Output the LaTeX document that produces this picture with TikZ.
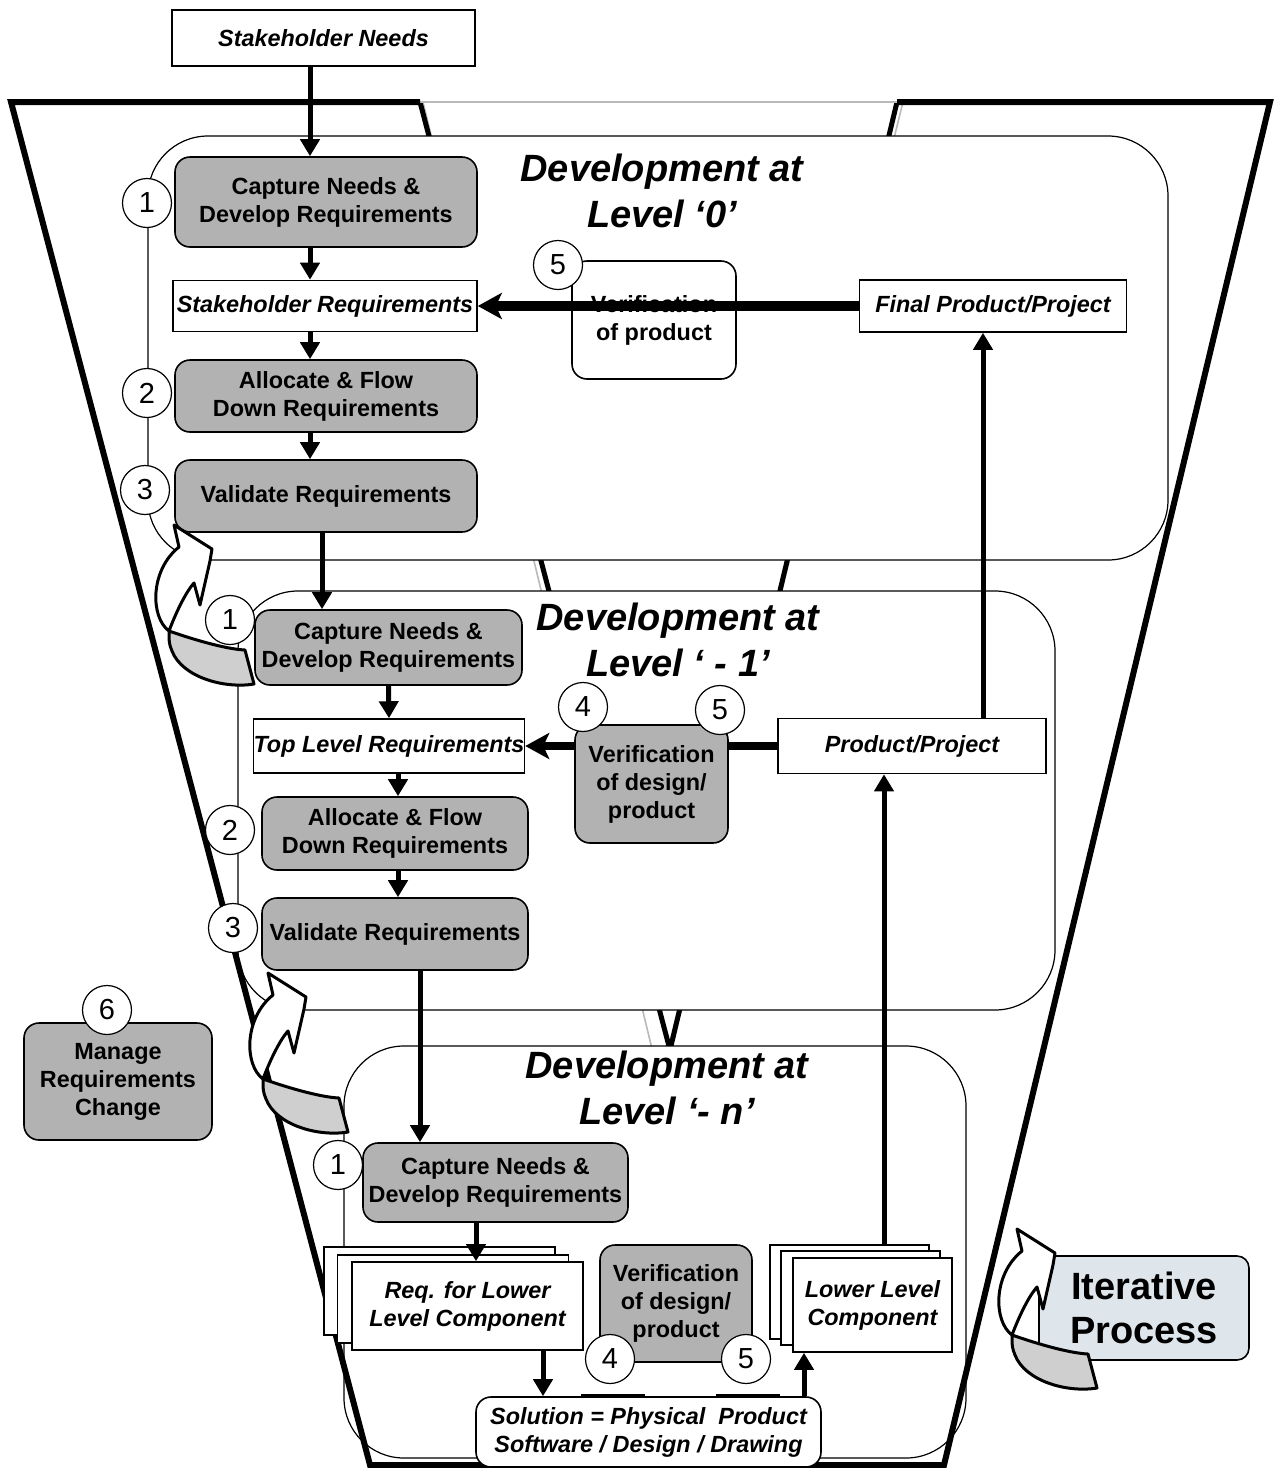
\documentclass[tikz,border=0pt]{standalone}
\usepackage{fontspec}
\setmainfont{Liberation Sans}
\usetikzlibrary{arrows.meta}

\definecolor{boxgray}{RGB}{178,178,178}
\definecolor{undergray}{RGB}{207,207,207}
\definecolor{iterfill}{RGB}{223,230,235}
\definecolor{shadowline}{RGB}{185,185,185}

\tikzset{
  graybox/.style={draw, fill=boxgray, rounded corners=7.5pt, line width=0.8pt,
    align=center, inner sep=1pt, font=\bfseries\fontsize{11.7}{14}\selectfont},
  whitebox/.style={draw, fill=white, line width=0.8pt, align=center,
    inner sep=0pt, font=\bfseries\itshape\fontsize{11.7}{14}\selectfont},
  roundwhite/.style={whitebox, rounded corners=7.5pt},
  numcirc/.style={circle, draw, fill=white, line width=0.6pt, minimum size=24.5pt,
    inner sep=0pt, font=\fontsize{14.5}{14.5}\selectfont},
  leveltitle/.style={align=center, font=\bfseries\itshape\fontsize{19}{23}\selectfont},
  levelbox/.style={draw, fill=white, line width=0.6pt, rounded corners=30pt},
  iterbox/.style={draw, fill=iterfill, rounded corners=6pt, line width=0.8pt,
    align=center, font=\bfseries\fontsize{19}{22}\selectfont},
  flow/.style={line width=2.5pt, -{Triangle[length=8.5pt,width=9.5pt]}},
  bigflow/.style={line width=#1, -{Stealth[length=12pt,width=13pt,inset=3pt]}},
  bigflow/.default=5pt,
  pics/twistarrow/.style={code={
    \filldraw[fill=undergray, line width=1.5pt, line join=round]
      (-5,106) .. controls (15,113) and (50,124) .. (71,125) -- (80,159)
      .. controls (50,164) and (8,152) .. (-2,126)
      .. controls (-5,118) .. (-5,106) -- cycle;
    \filldraw[fill=white, line width=1.5pt, line join=round]
      (0,0) -- (38,24) -- (36,36) -- (26,80) -- (20,58)
      .. controls (11,68) and (1,90) .. (-5,106)
      .. controls (-24,92) and (-24,45) .. (5,22) -- cycle;
  }}
}

\begin{document}
\begin{tikzpicture}[x=0.5pt,y=-0.5pt]
  \useasboundingbox (0,0) rectangle (1284,1468);
  % V interna
  \draw[shadowline, line width=0.8pt] (423,102) -- (660,1082) -- (903,102);
  \draw[line width=2.5pt] (420,102) -- (670,1050) -- (897,102);
  \draw[shadowline, line width=1.2pt] (420,102) -- (897,102);
  % Livelli
  \draw[levelbox] (148,136) rectangle (1168,560);
  \draw[levelbox] (238,591) rectangle (1055,1010);
  \draw[levelbox] (344,1046) rectangle (966,1458);
  % Imbuto
  \draw[line width=3pt, line join=miter] (420,102) -- (11,102) -- (370,1465)
    -- (944,1465) -- (1270,102) -- (897,102);
  % Titoli
  \node[leveltitle] (title0) at (662,191) {Development at\\Level ‘0’};
  \node[leveltitle] (title1) at (678,640) {Development at\\Level ‘ - 1’};
  \node[leveltitle] (titlen) at (667,1088) {Development at\\Level ‘- n’};

  % Livello 0
  \node[whitebox, minimum width=151.5pt, minimum height=28pt] (needs) at (323.5,38) {Stakeholder Needs};
  \node[graybox, minimum width=151pt, minimum height=45pt] (cap0) at (326,202) {Capture Needs \&\\Develop Requirements};
  \node[whitebox, minimum width=152pt, minimum height=25.5pt] (sreq) at (325,306) {Stakeholder Requirements};
  \node[graybox, minimum width=151pt, minimum height=36pt] (alloc0) at (326,396) {Allocate \& Flow\\Down Requirements};
  \node[graybox, minimum width=151pt, minimum height=36pt] (val0) at (326,496) {Validate Requirements};
  \node[roundwhite, font=\bfseries\fontsize{11.7}{14}\selectfont, minimum width=82pt, minimum height=59pt] (ver0) at (654,320) {Verification\\of product};
  \node[whitebox, minimum width=133.5pt, minimum height=26pt] (final) at (993,306) {Final Product/Project};
  \draw[bigflow=5pt] (final.west) -- (sreq.east);
  \draw[flow] ([xshift=-6.75pt]needs.south) -- ([xshift=-8pt]cap0.north);
  \draw[flow] ([xshift=-8pt]cap0.south) -- ([xshift=-7.5pt]sreq.north);
  \draw[flow] ([xshift=-7.5pt]sreq.south) -- ([xshift=-8pt]alloc0.north);
  \draw[flow] ([xshift=-8pt]alloc0.south) -- ([xshift=-8pt]val0.north);

  % Livello -1
  \node[graybox, minimum width=133.5pt, minimum height=37.5pt] (cap1) at (388.5,647.5) {Capture Needs \&\\Develop Requirements};
  \node[whitebox, minimum width=134pt, minimum height=27pt] (top) at (389,746) {Top Level Requirements};
  \node[graybox, minimum width=133pt, minimum height=36.5pt] (alloc1) at (395,833.5) {Allocate \& Flow\\Down Requirements};
  \node[graybox, minimum width=133pt, minimum height=36pt] (val1) at (395,934) {Validate Requirements};
  \node[whitebox, minimum width=134pt, minimum height=27.5pt] (prod) at (912,746) {Product/Project};
  \draw[bigflow=4pt] (prod.west) -- (top.east);
  \node[graybox, minimum width=76.5pt, minimum height=59pt] (ver1) at (651.5,784) {Verification\\of design/\\product};
  \draw[flow] ([xshift=-2pt]val0.south) -- ([xshift=-33.25pt]cap1.north);
  \draw[flow] (cap1.south) -- (top.north);
  \draw[flow] ([xshift=4.5pt]top.south) -- ([xshift=1.5pt]alloc1.north);
  \draw[flow] ([xshift=1.5pt]alloc1.south) -- ([xshift=1.5pt]val1.north);
  \draw[flow] ([xshift=35.5pt]prod.north) -- ([xshift=-5pt]final.south);

  % Livello -n
  \node[graybox, minimum width=132.5pt, minimum height=39.5pt] (capn) at (495.5,1182.5) {Capture Needs \&\\Develop Requirements};
  \node[whitebox, minimum width=115.5pt, minimum height=44pt] (reqc) at (439.5,1291) {};
  \node[whitebox, minimum width=115.5pt, minimum height=44pt] (reqb) at (453,1299) {};
  \node[whitebox, minimum width=115.5pt, minimum height=44pt] (reqn) at (467.5,1306) {Req. for Lower\\Level Component};
  \node[whitebox, minimum width=79.5pt, minimum height=47pt] (lowc) at (849.5,1292) {};
  \node[whitebox, minimum width=79.5pt, minimum height=47pt] (lowb) at (860.5,1298) {};
  \node[whitebox, minimum width=79.5pt, minimum height=47pt] (lower) at (872.5,1305) {Lower Level\\Component};
  \node[graybox, minimum width=76pt, minimum height=58.5pt] (vern) at (676,1303.5) {Verification\\of design/\\product};
  \node[roundwhite, minimum width=172.5pt, minimum height=35pt] (sol) at (648.5,1432) {Solution = Physical\ \ Product\\Software / Design / Drawing};
  \draw[line width=2pt] ([xshift=53pt]sol.north west) -- ([xshift=85pt]sol.north west);
  \draw[line width=2pt] ([xshift=120.5pt]sol.north west) -- ([xshift=152.5pt]sol.north west);
  \draw[flow] ([xshift=12.5pt]val1.south) -- ([xshift=-37.75pt]capn.north);
  \draw[flow] ([xshift=-9.75pt]capn.south) -- ([xshift=4.25pt]reqn.north);
  \draw[flow] ([xshift=37.75pt]reqn.south) -- ([xshift=-52.75pt]sol.north);
  \draw[flow] ([xshift=77.75pt]sol.north) -- ([xshift=-34.25pt]lower.south);
  \draw[flow] ([xshift=17.25pt]lowc.north) -- ([xshift=-14pt]prod.south);

  % Gestione e iterazione
  \node[graybox, minimum width=94pt, minimum height=58.5pt] (manage) at (118,1081.5) {Manage\\Requirements\\Change};
  \node[iterbox, minimum width=105pt, minimum height=52pt] (iter) at (1144,1308) {Iterative\\Process};
  \pic at (174,525) {twistarrow};
  \pic at (268,973) {twistarrow};
  \pic at (1017,1229) {twistarrow};

  % Numeri
  \node[numcirc] (c1a) at (147,203) {1};
  \node[numcirc] (c2a) at (147,393) {2};
  \node[numcirc] (c3a) at (145,490) {3};
  \node[numcirc] (c5a) at (558,265) {5};
  \node[numcirc] (c1b) at (230,620) {1};
  \node[numcirc] (c2b) at (230,830) {2};
  \node[numcirc] (c3b) at (233,928) {3};
  \node[numcirc] (c4b) at (583,707) {4};
  \node[numcirc] (c5b) at (720,710) {5};
  \node[numcirc] (c1n) at (338,1165) {1};
  \node[numcirc] (c4n) at (610,1359) {4};
  \node[numcirc] (c5n) at (746,1359) {5};
  \node[numcirc] (c6) at (107,1010) {6};
\end{tikzpicture}
\end{document}
